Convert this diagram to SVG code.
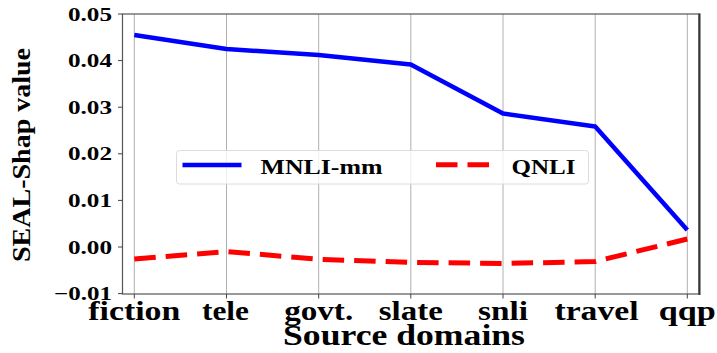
<svg xmlns="http://www.w3.org/2000/svg" width="717" height="353" viewBox="0 0 717 353">
  <style>
    text { font-family: "Liberation Serif", "Times New Roman", serif; font-weight: bold; fill: #000; }
    .ytick { font-size: 19px; text-anchor: end; }
    .xtick { font-size: 27px; text-anchor: middle; }
    .grid { stroke: #b0b0b0; stroke-width: 1; }
    .tick { stroke: #444; stroke-width: 1; }
    .mnli { fill: none; stroke: #0000ff; stroke-width: 4.5; stroke-linejoin: round; }
    .qnli { fill: none; stroke: #ff0000; stroke-width: 5; stroke-dasharray: 21.5 10; stroke-linejoin: round; }
  </style>
  <rect width="717" height="353" fill="#fff"/>

  <!-- vertical grid lines at each source domain -->
  <g id="grid">
    <line class="grid" x1="134.3" y1="14" x2="134.3" y2="294"/>
    <line class="grid" x1="226.5" y1="14" x2="226.5" y2="294"/>
    <line class="grid" x1="318.7" y1="14" x2="318.7" y2="294"/>
    <line class="grid" x1="410.8" y1="14" x2="410.8" y2="294"/>
    <line class="grid" x1="503" y1="14" x2="503" y2="294"/>
    <line class="grid" x1="595.2" y1="14" x2="595.2" y2="294"/>
    <line class="grid" x1="687.3" y1="14" x2="687.3" y2="294"/>
  </g>

  <!-- axes frame -->
  <g id="axes">
    <rect x="122.5" y="14" width="576.5" height="280" fill="none" stroke="#555" stroke-width="1.2"/>
    <line x1="699.5" y1="13.5" x2="699.5" y2="295" stroke="#333" stroke-width="2"/>
    <!-- y ticks -->
    <line class="tick" x1="118" y1="14" x2="122.5" y2="14"/>
    <line class="tick" x1="118" y1="60.6" x2="122.5" y2="60.6"/>
    <line class="tick" x1="118" y1="107.2" x2="122.5" y2="107.2"/>
    <line class="tick" x1="118" y1="153.8" x2="122.5" y2="153.8"/>
    <line class="tick" x1="118" y1="200.4" x2="122.5" y2="200.4"/>
    <line class="tick" x1="118" y1="247" x2="122.5" y2="247"/>
    <line class="tick" x1="118" y1="293.6" x2="122.5" y2="293.6"/>
    <!-- x ticks -->
    <line class="tick" x1="134.3" y1="294" x2="134.3" y2="298.5"/>
    <line class="tick" x1="226.5" y1="294" x2="226.5" y2="298.5"/>
    <line class="tick" x1="318.7" y1="294" x2="318.7" y2="298.5"/>
    <line class="tick" x1="410.8" y1="294" x2="410.8" y2="298.5"/>
    <line class="tick" x1="503" y1="294" x2="503" y2="298.5"/>
    <line class="tick" x1="595.2" y1="294" x2="595.2" y2="298.5"/>
    <line class="tick" x1="687.3" y1="294" x2="687.3" y2="298.5"/>
  </g>

  <!-- y tick labels -->
  <g id="ytick-labels">
    <text class="ytick" x="112" y="20.5" textLength="44" lengthAdjust="spacingAndGlyphs">0.05</text>
    <text class="ytick" x="112" y="67.1" textLength="44" lengthAdjust="spacingAndGlyphs">0.04</text>
    <text class="ytick" x="112" y="113.7" textLength="44" lengthAdjust="spacingAndGlyphs">0.03</text>
    <text class="ytick" x="112" y="160.3" textLength="44" lengthAdjust="spacingAndGlyphs">0.02</text>
    <text class="ytick" x="112" y="206.9" textLength="44" lengthAdjust="spacingAndGlyphs">0.01</text>
    <text class="ytick" x="112" y="253.5" textLength="44" lengthAdjust="spacingAndGlyphs">0.00</text>
    <text class="ytick" x="112" y="300" textLength="58" lengthAdjust="spacingAndGlyphs">−0.01</text>
  </g>

  <!-- x tick labels -->
  <g id="xtick-labels">
    <text class="xtick" x="134.3" y="319.5" textLength="92" lengthAdjust="spacingAndGlyphs">fiction</text>
    <text class="xtick" x="225.5" y="319.5" textLength="47" lengthAdjust="spacingAndGlyphs">tele</text>
    <text class="xtick" x="318.7" y="319.5" textLength="69" lengthAdjust="spacingAndGlyphs">govt.</text>
    <text class="xtick" x="410.8" y="319.5" textLength="64" lengthAdjust="spacingAndGlyphs">slate</text>
    <text class="xtick" x="503" y="319.5" textLength="50" lengthAdjust="spacingAndGlyphs">snli</text>
    <text class="xtick" x="596.5" y="319.5" textLength="84" lengthAdjust="spacingAndGlyphs">travel</text>
    <text class="xtick" x="687.3" y="319.5" textLength="57" lengthAdjust="spacingAndGlyphs">qqp</text>
  </g>

  <!-- axis titles -->
  <text id="xlabel" x="404" y="345" font-size="29" text-anchor="middle" textLength="242" lengthAdjust="spacingAndGlyphs">Source domains</text>
  <text id="ylabel" transform="translate(30 155) rotate(-90)" font-size="26" text-anchor="middle" textLength="214" lengthAdjust="spacingAndGlyphs">SEAL-Shap value</text>

  <!-- data series -->
  <g id="series">
    <polyline id="mnli-mm" class="mnli" points="134.3,35 226.5,49 318.7,55 410.8,64.5 503,113.5 595.2,126.5 687.3,230"/>
    <polyline id="qnli" class="qnli" points="134.3,259 226.5,251.5 318.7,259.3 410.8,262.3 503,263.5 595.2,261.5 687.3,239"/>
  </g>

  <!-- legend -->
  <g id="legend">
    <rect x="176.5" y="150.5" width="412" height="33.5" rx="3" fill="#fff" fill-opacity="0.8" stroke="#dcdcdc" stroke-width="1"/>
    <line class="mnli" x1="182.5" y1="165" x2="241.5" y2="165" stroke-linecap="butt"/>
    <text x="260.5" y="173.5" font-size="21" textLength="122" lengthAdjust="spacingAndGlyphs">MNLI-mm</text>
    <line class="qnli" x1="436" y1="164.7" x2="489.5" y2="164.7" stroke-dasharray="21 11"/>
    <text x="511.5" y="173.5" font-size="21" textLength="64" lengthAdjust="spacingAndGlyphs">QNLI</text>
  </g>
</svg>
